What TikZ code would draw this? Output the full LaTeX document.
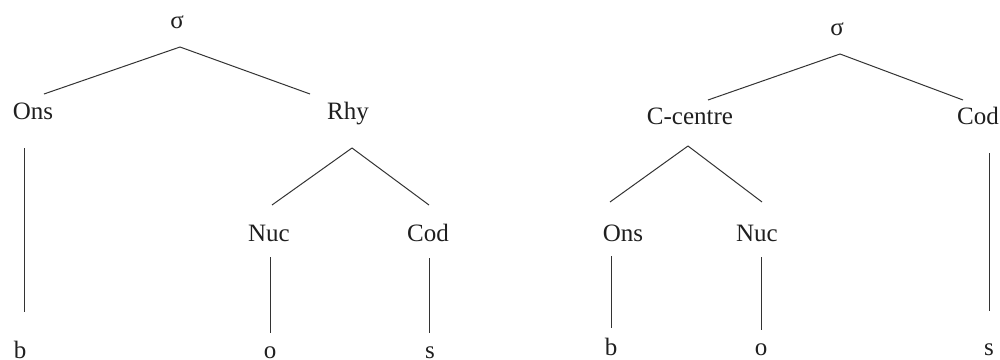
\documentclass[tikz,border=0pt]{standalone}
\usepackage{fontspec}
\setmainfont{Liberation Serif}
\usetikzlibrary{calc}
\begin{document}
\begin{tikzpicture}[x=1pt,y=-1pt,
  lbl/.style={anchor=base,inner sep=0pt,text=black!88,font=\fontsize{25}{30}\selectfont},
  edge/.style={draw=black!80,line width=1pt}]
\useasboundingbox (0,0) rectangle (1000,359);
% left tree
\node[lbl] (sigL) at (177,28) {σ};
\node[lbl] (onsL) at (33,119) {Ons};
\node[lbl] (rhyL) at (348,119) {Rhy};
\node[lbl] (nucL) at (269,241) {Nuc};
\node[lbl] (codL) at (428,241) {Cod};
\node[lbl] (bL) at (20,358) {b};
\node[lbl] (oL) at (270,358) {o};
\node[lbl] (sL) at (430,358) {s};
% right tree
\node[lbl] (sigR) at (837,35) {σ};
\node[lbl] (ccR) at (690,124) {C-centre};
\node[lbl] (codR) at (978,124) {Cod};
\node[lbl] (onsR) at (623,241) {Ons};
\node[lbl] (nucR) at (757,241) {Nuc};
\node[lbl] (bR) at (611,355) {b};
\node[lbl] (oR) at (761,355) {o};
\node[lbl] (sR) at (989,355) {s};
% connectors left
\draw[edge] ($(sigL.base)+(3,19)$) -- ($(onsL.base)+(11,-25)$);
\draw[edge] ($(sigL.base)+(3,19)$) -- ($(rhyL.base)+(-38,-25)$);
\draw[edge] ($(rhyL.base)+(4,29)$) -- ($(nucL.base)+(3,-36)$);
\draw[edge] ($(rhyL.base)+(4,29)$) -- ($(codL.base)+(1,-36)$);
\draw[edge] ($(onsL.base)+(-9,29)$) -- ($(bL.base)+(4,-46)$);
\draw[edge] ($(nucL.base)+(1,16)$) -- ($(oL.base)+(0,-25)$);
\draw[edge] ($(codL.base)+(1,17)$) -- ($(sL.base)+(-1,-25)$);
% connectors right
\draw[edge] ($(sigR.base)+(3,19)$) -- ($(ccR.base)+(18,-24)$);
\draw[edge] ($(sigR.base)+(3,19)$) -- ($(codR.base)+(-15,-24)$);
\draw[edge] ($(ccR.base)+(-2,22)$) -- ($(onsR.base)+(-13,-39)$);
\draw[edge] ($(ccR.base)+(-2,22)$) -- ($(nucR.base)+(5,-39)$);
\draw[edge] ($(onsR.base)+(-12,15)$) -- ($(bR.base)+(0,-27)$);
\draw[edge] ($(nucR.base)+(4,16)$) -- ($(oR.base)+(0,-25)$);
\draw[edge] ($(codR.base)+(11,29)$) -- ($(sR.base)+(0,-44)$);
\end{tikzpicture}
\end{document}
